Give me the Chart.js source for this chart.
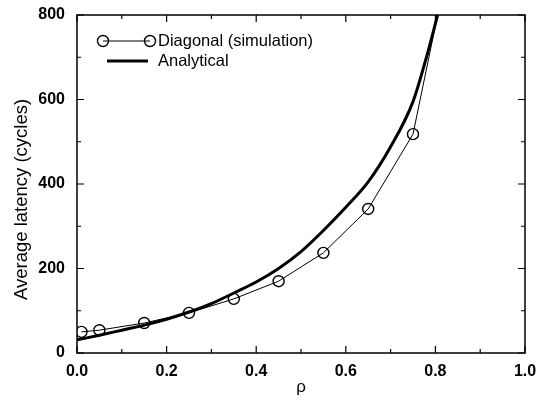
<!DOCTYPE html>
<html>
<head>
<meta charset="utf-8">
<script src="https://cdn.jsdelivr.net/npm/chart.js@4.4.0/dist/chart.umd.min.js"></script>
<style>
  html, body { margin: 0; padding: 0; background: #fff; }
  #wrap { width: 542px; height: 402px; }
</style>
</head>
<body>
<div id="wrap"><canvas id="latencyChart" width="542" height="402"></canvas></div>
<script>
// ==== Data ====
const simRho     = [0.01, 0.05, 0.15, 0.25, 0.35, 0.45, 0.55, 0.65, 0.75, 0.805];
const simLatency = [50,   54,   71,   95,   128,  170,  237,  341,  518,  800];

const anaRho     = [0.0, 0.05, 0.1, 0.15, 0.2, 0.25, 0.3, 0.35, 0.4, 0.45, 0.5, 0.55, 0.6, 0.65, 0.7, 0.75, 0.78, 0.805];
const anaLatency = [31,  42,   54,  66,   80,  97,   117, 142,  168, 200,  240, 290,  345, 405,  488, 595,  700,  800];

const xTickLabels = ['0.0', '0.2', '0.4', '0.6', '0.8', '1.0'];
const yTickLabels = ['0', '200', '400', '600', '800'];

const FONT = '"Liberation Sans", Arial, Helvetica, sans-serif';

// ---- helpers ----
const toPoints = (xs, ys) => xs.map((x, i) => ({ x, y: ys[i] }));
const fmtX = (v) => (Math.round(v * 10) / 10).toFixed(1);

// ---- inward ticks, frame and legend ----
const framePlugin = {
  id: 'frame',
  afterDraw(chart) {
    const { ctx, chartArea: a, scales } = chart;
    ctx.save();
    ctx.strokeStyle = '#000';
    ctx.lineWidth = 1.5;
    ctx.strokeRect(a.left, a.top, a.right - a.left, a.bottom - a.top);

    ctx.lineWidth = 1.2;
    // x ticks (bottom + top)
    scales.x.ticks.forEach((t) => {
      const px = scales.x.getPixelForValue(t.value);
      const major = xTickLabels.includes(fmtX(t.value));
      const len = major ? 7 : 4;
      ctx.beginPath();
      ctx.moveTo(px, a.bottom); ctx.lineTo(px, a.bottom - len);
      ctx.moveTo(px, a.top);    ctx.lineTo(px, a.top + len);
      ctx.stroke();
    });
    // y ticks (left + right)
    scales.y.ticks.forEach((t) => {
      const py = scales.y.getPixelForValue(t.value);
      const major = yTickLabels.includes(String(t.value));
      const len = major ? 7 : 4;
      ctx.beginPath();
      ctx.moveTo(a.left, py);  ctx.lineTo(a.left + len, py);
      ctx.moveTo(a.right, py); ctx.lineTo(a.right - len, py);
      ctx.stroke();
    });

    // legend
    const lx = a.left + 26, ly = a.top + 26;
    ctx.lineWidth = 1;
    ctx.beginPath();
    ctx.moveTo(lx, ly); ctx.lineTo(lx + 47, ly);
    ctx.stroke();
    ctx.lineWidth = 1.4;
    [lx, lx + 47].forEach((cx) => {
      ctx.beginPath();
      ctx.arc(cx, ly, 5.5, 0, Math.PI * 2);
      ctx.stroke();
    });
    ctx.lineWidth = 3;
    ctx.beginPath();
    ctx.moveTo(lx + 4, ly + 20); ctx.lineTo(lx + 45, ly + 20);
    ctx.stroke();

    ctx.fillStyle = '#000';
    ctx.font = '16.5px ' + FONT;
    ctx.textBaseline = 'middle';
    ctx.textAlign = 'left';
    ctx.fillText('Diagonal (simulation)', lx + 55, ly);
    ctx.fillText('Analytical', lx + 55, ly + 20);
    ctx.restore();
  }
};

// ---- chart ----
const ctx = document.getElementById('latencyChart').getContext('2d');
new Chart(ctx, {
  type: 'line',
  data: {
    datasets: [
      {
        label: 'Diagonal (simulation)',
        data: toPoints(simRho, simLatency),
        borderColor: '#000',
        borderWidth: 1,
        pointStyle: 'circle',
        pointRadius: simRho.map((r, i) => (i === simRho.length - 1 ? 0 : 5.5)),
        pointBorderWidth: 1.4,
        pointBorderColor: '#000',
        pointBackgroundColor: 'rgba(0,0,0,0)',
        tension: 0,
        fill: false
      },
      {
        label: 'Analytical',
        data: toPoints(anaRho, anaLatency),
        borderColor: '#000',
        borderWidth: 3,
        pointRadius: 0,
        tension: 0.3,
        cubicInterpolationMode: 'monotone',
        fill: false
      }
    ]
  },
  options: {
    responsive: false,
    animation: false,
    layout: { padding: { top: 15, right: 17, left: 0, bottom: 0 } },
    plugins: { legend: { display: false }, tooltip: { enabled: false } },
    scales: {
      x: {
        type: 'linear',
        min: 0, max: 1,
        afterFit: (s) => { s.height = 49; s.paddingLeft = 0; s.paddingRight = 0; },
        afterBuildTicks: (s) => { s.ticks = [0,1,2,3,4,5,6,7,8,9,10].map((i) => ({ value: i / 10 })); },
        grid: { display: false, drawTicks: false },
        border: { display: false },
        ticks: {
          autoSkip: false, maxRotation: 0, padding: 9,
          color: '#000', font: { family: FONT, size: 16, weight: 'bold' },
          callback: (v) => (xTickLabels.includes(fmtX(v)) ? fmtX(v) : '')
        },
        title: {
          display: true, text: 'ρ', color: '#000',
          font: { family: FONT, size: 17 }, padding: { top: 0, bottom: 4 }
        }
      },
      y: {
        min: 0, max: 800,
        afterFit: (s) => { s.width = 77; s.paddingTop = 0; s.paddingBottom = 0; },
        ticks: {
          stepSize: 100, autoSkip: false, padding: 12,
          color: '#000', font: { family: FONT, size: 16, weight: 'bold' },
          callback: (v) => (yTickLabels.includes(String(v)) ? String(v) : '')
        },
        grid: { display: false, drawTicks: false },
        border: { display: false },
        title: {
          display: true, text: 'Average latency (cycles)      ', color: '#000',
          font: { family: FONT, size: 18.5 }, padding: { top: 11, bottom: 0 }
        }
      }
    }
  },
  plugins: [framePlugin]
});
</script>
</body>
</html>
